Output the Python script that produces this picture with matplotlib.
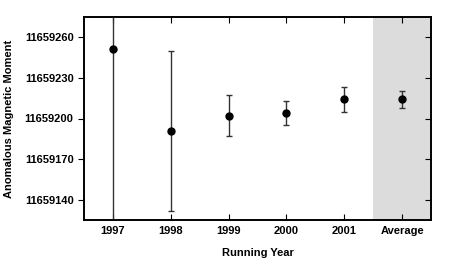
import numpy as np
import matplotlib
matplotlib.use('Agg')
import matplotlib.pyplot as plt

labels = ['1997', '1998', '1999', '2000', '2001', 'Average']
values = [11659251, 11659191, 11659202, 11659204, 11659214, 11659214]
errors = [150, 59, 15, 9, 9, 6]

plt.rcParams['font.family'] = ['Liberation Sans', 'DejaVu Sans']
plt.rcParams['font.weight'] = 'bold'

fig = plt.figure(figsize=(4.49, 2.65), dpi=100)
ax = fig.add_axes([84 / 449, 45 / 265, 347 / 449, 203 / 265])

x = np.arange(len(labels))
ax.axvspan(4.5, 5.5, color='#dcdcdc', zorder=0, lw=0)
ax.errorbar(x, values, yerr=errors, fmt='o', color='black', ecolor='#333333',
            elinewidth=1.0, capsize=2, capthick=1.0, markersize=5, zorder=3)

ax.set_xlim(-0.5, 5.5)
ax.set_ylim(11659125.3, 11659274.7)
ax.set_xticks(x)
ax.set_xticklabels(labels)
ax.set_yticks([11659140, 11659170, 11659200, 11659230, 11659260])
ax.ticklabel_format(axis='y', useOffset=False, style='plain')

ax.tick_params(axis='x', direction='in', top=True, length=4, labelsize=8, pad=4)
ax.tick_params(axis='y', which='both', left=True, right=False, direction='out',
               length=4, labelsize=8)
# right-side ticks point inward
ax2 = ax.twinx()
ax2.set_ylim(ax.get_ylim())
ax2.set_yticks(ax.get_yticks())
ax2.tick_params(axis='y', direction='in', length=4, labelright=False)

for a in (ax, ax2):
    for s in a.spines.values():
        s.set_linewidth(1.2)

ax.set_xlabel('Running Year', fontsize=8, fontweight='bold', labelpad=9)
ax.set_ylabel('Anomalous Magnetic Moment', fontsize=8, fontweight='bold', labelpad=8)

fig.savefig('out.png', dpi=100)
